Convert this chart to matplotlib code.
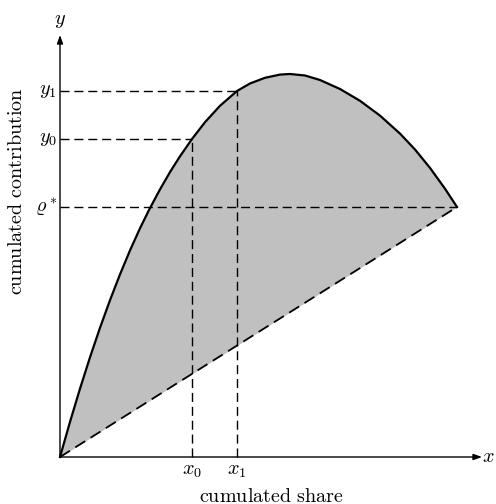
import matplotlib
matplotlib.use("Agg")
import matplotlib.pyplot as plt
import numpy as np

plt.rcParams['mathtext.fontset'] = 'cm'

# curve (cumulated share vs cumulated contribution), arbitrary units
curve_x = [0, 10, 20, 30, 40, 50, 60, 70, 80, 89, 100, 110, 120, 132, 145, 160, 177,
           190, 205, 220, 230, 245, 260, 280, 300, 320, 340, 355, 370, 385, 397]
curve_y = [0, 35.1, 68.3, 99.7, 129.2, 156.8, 182.6, 206.6, 228.7, 247, 267.6, 284.9, 300.7,
           318, 334.8, 351.2, 366, 373.5, 379.2, 382.4, 383, 381.5, 377, 368, 356.2, 341.4,
           323.4, 307.5, 289.1, 268.3, 250]

# marked points
x0_val, y0_val = 132, 318
x1_val, y1_val = 177, 366
rho_val = 250
end_x = 397

x_tick_labels = [r'$x_0$', r'$x_1$']
y_tick_labels = [r'$y_0$', r'$y_1$', r'$\varrho^*$']

fig = plt.figure(figsize=(4.96, 5.04), dpi=100)
ax = fig.add_axes([0, 0, 1, 1])
ax.set_xlim(-60, 436)
ax.set_ylim(-47, 457)
ax.axis('off')

cx = np.array(curve_x, dtype=float)
cy = np.array(curve_y, dtype=float)
chord = cx * rho_val / end_x

ax.fill_between(cx, chord, cy, color='#c0c0c0', lw=0, zorder=1)
ax.plot(cx, cy, color='black', lw=1.6, zorder=4, solid_joinstyle='round')

dash = (0, (6.5, 3.5))
ax.plot([0, end_x], [0, rho_val], color='black', lw=1.3, linestyle=dash, zorder=3)
ax.plot([0, end_x], [rho_val, rho_val], color='black', lw=1.0, linestyle=dash, zorder=3)
ax.plot([0, x0_val], [y0_val, y0_val], color='black', lw=1.0, linestyle=dash, zorder=3)
ax.plot([0, x1_val], [y1_val, y1_val], color='black', lw=1.0, linestyle=dash, zorder=3)
ax.plot([x0_val, x0_val], [0, y0_val], color='black', lw=1.0, linestyle=dash, zorder=3)
ax.plot([x1_val, x1_val], [0, y1_val], color='black', lw=1.0, linestyle=dash, zorder=3)

# axes with arrows
ax.annotate('', xy=(422, 0), xytext=(0, 0),
            arrowprops=dict(arrowstyle='-|>,head_length=0.5,head_width=0.18', color='black', lw=1.0,
                            shrinkA=0, shrinkB=0), zorder=5)
ax.annotate('', xy=(0, 422), xytext=(0, 0),
            arrowprops=dict(arrowstyle='-|>,head_length=0.5,head_width=0.18', color='black', lw=1.0,
                            shrinkA=0, shrinkB=0), zorder=5)

fs = 14.5
ax.text(428, 0, r'$x$', fontsize=fs, ha='center', va='center')
ax.text(0, 437, r'$y$', fontsize=fs, ha='center', va='center')

for lab, xv in zip(x_tick_labels, [x0_val, x1_val]):
    ax.text(xv, -4, lab, fontsize=fs, ha='center', va='top')
for lab, yv in zip(y_tick_labels, [y0_val, y1_val, rho_val]):
    ax.text(-3, yv, lab, fontsize=fs, ha='right', va='center')

ax.text(211, -39, r'$\mathrm{cumulated\ share}$', fontsize=fs, ha='center', va='center')
ax.text(-43, 266, r'$\mathrm{cumulated\ contribution}$', fontsize=fs, ha='center', va='center',
        rotation=90)

fig.savefig('out.png', dpi=100)
